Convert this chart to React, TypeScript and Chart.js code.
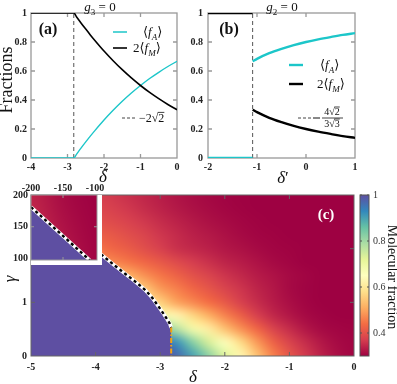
import React, { useEffect, useRef } from "react";
import { Chart, registerables } from "chart.js";

Chart.register(...registerables);

const SERIF = '"Liberation Serif", "DejaVu Serif", serif';
const CYAN = "#1cc6c9";

// ---------------- Panel (a): g3 = 0 ----------------
const deltaA = [-4, -3.5, -3, -2.828, -2.75, -2.625, -2.5, -2.375, -2.25, -2, -1.75, -1.5, -1.25, -1, -0.75, -0.5, -0.25, 0];
const molA = [1, 1, 1, 1, 0.973, 0.93, 0.889, 0.849, 0.811, 0.738, 0.671, 0.609, 0.552, 0.5, 0.452, 0.409, 0.369, 0.333];
const atomA = [0, 0, 0, 0, 0.027, 0.07, 0.111, 0.151, 0.189, 0.262, 0.329, 0.391, 0.448, 0.5, 0.548, 0.591, 0.631, 0.667];
const critA = -2.828;
const ticksAX = [-4, -3, -2, -1, 0];
const labelsAX = ["-4", "-3", "-2", "-1", "0"];
const ticksFrac = [0, 0.2, 0.4, 0.6, 0.8, 1];
const labelsFrac = ["0", "0.2", "0.4", "0.6", "0.8", "1"];

// ---------------- Panel (b): g2 = 0 ----------------
const deltaBLow = [-2, -1.089];
const molBLow = [1, 1];
const atomBLow = [0, 0];
const deltaBHigh = [-1.089, -1, -0.75, -0.5, -0.25, 0, 0.25, 0.5, 0.75, 1];
const molBHigh = [0.333, 0.316, 0.277, 0.247, 0.221, 0.2, 0.182, 0.166, 0.151, 0.139];
const atomBHigh = [0.667, 0.684, 0.723, 0.753, 0.779, 0.8, 0.818, 0.834, 0.849, 0.861];
const critB = -1.089;
const ticksBX = [-2, -1, 0, 1];
const labelsBX = ["-2", "-1", "0", "1"];

// ---------------- Panel (c): molecular fraction map ----------------
const heatDelta = [-5, -4.75, -4.5, -4.25, -4, -3.75, -3.5, -3.25, -3, -2.75, -2.5, -2.25, -2, -1.75, -1.5, -1.25, -1, -0.75, -0.5, -0.25, 0];
const heatGamma = [0, 0.25, 0.5, 0.75, 1, 1.25, 1.5, 1.75, 2, 2.25, 2.5, 2.75, 3];
const heatG000 = [1, 1, 1, 1, 1, 1, 1, 1, 1, 0.97, 0.9, 0.82, 0.73, 0.63, 0.54, 0.46, 0.405, 0.365, 0.335, 0.315, 0.305];
const heatG025 = [0.97, 0.97, 0.97, 0.97, 0.97, 0.97, 0.97, 0.97, 0.97, 0.92, 0.83, 0.74, 0.66, 0.575, 0.49, 0.425, 0.38, 0.35, 0.325, 0.31, 0.305];
const heatG050 = [0.84, 0.84, 0.84, 0.84, 0.84, 0.84, 0.84, 0.84, 0.84, 0.78, 0.69, 0.61, 0.54, 0.48, 0.43, 0.38, 0.35, 0.325, 0.31, 0.305, 0.302];
const heatG075 = [0.69, 0.69, 0.69, 0.69, 0.69, 0.69, 0.69, 0.69, 0.69, 0.63, 0.57, 0.515, 0.465, 0.42, 0.375, 0.345, 0.325, 0.31, 0.303, 0.3, 0.3];
const heatG100 = [0.6, 0.6, 0.6, 0.6, 0.6, 0.6, 0.6, 0.6, 0.56, 0.5, 0.47, 0.44, 0.41, 0.375, 0.35, 0.33, 0.315, 0.305, 0.3, 0.3, 0.3];
const heatG125 = [0.58, 0.58, 0.58, 0.58, 0.58, 0.58, 0.58, 0.55, 0.49, 0.46, 0.43, 0.405, 0.38, 0.36, 0.34, 0.325, 0.31, 0.303, 0.3, 0.3, 0.3];
const heatG150 = [0.54, 0.54, 0.54, 0.54, 0.54, 0.54, 0.52, 0.48, 0.45, 0.425, 0.4, 0.38, 0.36, 0.345, 0.33, 0.32, 0.31, 0.305, 0.3, 0.3, 0.3];
const heatG175 = [0.49, 0.49, 0.49, 0.49, 0.49, 0.47, 0.45, 0.43, 0.41, 0.39, 0.37, 0.355, 0.34, 0.33, 0.32, 0.31, 0.305, 0.3, 0.3, 0.3, 0.3];
const heatG200 = [0.46, 0.46, 0.46, 0.46, 0.45, 0.43, 0.415, 0.395, 0.375, 0.355, 0.345, 0.335, 0.325, 0.318, 0.31, 0.305, 0.302, 0.3, 0.3, 0.3, 0.3];
const heatG225 = [0.43, 0.43, 0.43, 0.43, 0.42, 0.41, 0.395, 0.38, 0.362, 0.348, 0.336, 0.327, 0.318, 0.31, 0.305, 0.302, 0.3, 0.3, 0.3, 0.3, 0.3];
const heatG250 = [0.41, 0.41, 0.41, 0.41, 0.4, 0.39, 0.378, 0.364, 0.35, 0.338, 0.327, 0.318, 0.312, 0.306, 0.302, 0.3, 0.3, 0.3, 0.3, 0.3, 0.3];
const heatG275 = [0.39, 0.39, 0.39, 0.39, 0.385, 0.375, 0.363, 0.35, 0.338, 0.327, 0.318, 0.311, 0.306, 0.302, 0.3, 0.3, 0.3, 0.3, 0.3, 0.3, 0.3];
const heatG300 = [0.38, 0.38, 0.38, 0.38, 0.375, 0.365, 0.354, 0.343, 0.332, 0.322, 0.314, 0.308, 0.304, 0.301, 0.3, 0.3, 0.3, 0.3, 0.3, 0.3, 0.3];
const heatRows = [heatG000, heatG025, heatG050, heatG075, heatG100, heatG125, heatG150, heatG175, heatG200, heatG225, heatG250, heatG275, heatG300];

const boundaryDelta = [-5, -4.5, -3.91, -3.74, -3.57, -3.4, -3.235, -3.12, -3.03, -2.95, -2.89, -2.85, -2.83];
const boundaryGamma = [2.95, 2.45, 1.89, 1.72, 1.557, 1.4, 1.234, 1.08, 0.93, 0.79, 0.68, 0.6, 0.53];
const secondOrderDelta = [-2.83, -2.83];
const secondOrderGamma = [0.53, 0];
const ticksCX = [-5, -4, -3, -2, -1, 0];
const labelsCX = ["-5", "-4", "-3", "-2", "-1", "0"];
const ticksCY = [0, 1];
const labelsCY = ["0", "1"];

// inset (large detunings)
const insetDelta = [-200, -150, -100];
const insetGamma = [100, 150, 200];
const insetG100 = [0.36, 0.33, 0.305];
const insetG150 = [0.35, 0.32, 0.302];
const insetG200 = [0.34, 0.312, 0.3];
const insetRows = [insetG100, insetG150, insetG200];
const insetBoundaryDelta = [-200, -108.4];
const insetBoundaryGamma = [181, 97.6];
const ticksIX = [-200, -150, -100];
const labelsIX = ["-200", "-150", "-100"];
const ticksIY = [100, 150, 200];
const labelsIY = ["100", "150", "200"];

// colour bar
const cbMin = 0.3;
const cbMax = 1;
const cbTicks = [0.4, 0.6, 0.8, 1];
const cbLabels = ["0.4", "0.6", "0.8", "1"];
const SPECTRAL = ["#9e0142", "#d53e4f", "#f46d43", "#fdae61", "#fee08b", "#ffffbf", "#e6f598", "#abdda4", "#66c2a5", "#3288bd", "#5e4fa2"];

const hexRgb = (h: string) => [parseInt(h.slice(1, 3), 16), parseInt(h.slice(3, 5), 16), parseInt(h.slice(5, 7), 16)];
const SPEC_RGB = SPECTRAL.map(hexRgb);
function colorOf(v: number) {
  let t = (v - cbMin) / (cbMax - cbMin);
  t = Math.max(0, Math.min(1, t));
  const p = t * (SPEC_RGB.length - 1);
  const i = Math.min(Math.floor(p), SPEC_RGB.length - 2);
  const f = p - i;
  const a = SPEC_RGB[i];
  const b = SPEC_RGB[i + 1];
  return [0, 1, 2].map((k) => Math.round(a[k] + (b[k] - a[k]) * f));
}

const pts = (xs: number[], ys: number[]) => xs.map((x, i) => ({ x, y: ys[i] }));

const fontTick = { family: SERIF, size: 10, weight: "bold" as const };

function linScale(min: number, max: number, ticks: number[], labels: string[], pos: string, size: number, pad: number, font: any = fontTick, color = "#222") {
  return {
    type: "linear",
    min,
    max,
    position: pos,
    grid: { display: false, drawTicks: false },
    border: { display: false },
    ticks: {
      padding: pad,
      autoSkip: false,
      maxRotation: 0,
      minRotation: 0,
      color,
      font,
      callback: (_v: any, i: number) => labels[i],
    },
    afterBuildTicks: (s: any) => {
      s.ticks = ticks.map((v) => ({ value: v }));
    },
    afterFit: (s: any) => {
      if (pos === "left" || pos === "right") s.width = size;
      else s.height = size;
    },
  };
}

function baseOpts(padding: any, scales: any) {
  return {
    animation: false,
    responsive: false,
    maintainAspectRatio: false,
    devicePixelRatio: 1,
    events: [],
    layout: { padding },
    plugins: { legend: { display: false }, tooltip: { enabled: false }, title: { display: false } },
    scales,
  };
}

type Part = { t: string; it?: boolean; sub?: boolean; bold?: boolean; bar?: boolean };
function drawParts(ctx: CanvasRenderingContext2D, x: number, y: number, parts: Part[], size: number, color: string, align: "left" | "center" = "left") {
  const font = (p: Part) => `${p.it ? "italic " : ""}${p.bold ? "bold " : ""}${p.sub ? Math.round(size * 0.7) : size}px ${SERIF}`;
  ctx.save();
  ctx.textAlign = "left";
  ctx.textBaseline = "alphabetic";
  ctx.fillStyle = color;
  ctx.strokeStyle = color;
  const widths = parts.map((p) => {
    ctx.font = font(p);
    return ctx.measureText(p.t).width;
  });
  const total = widths.reduce((a, b) => a + b, 0);
  let cx = align === "center" ? x - total / 2 : x;
  parts.forEach((p, i) => {
    ctx.font = font(p);
    ctx.fillText(p.t, cx, p.sub ? y + size * 0.28 : y);
    if (p.bar) {
      ctx.lineWidth = 0.8;
      ctx.beginPath();
      ctx.moveTo(cx - 0.5, y - size * 0.8);
      ctx.lineTo(cx + widths[i], y - size * 0.8);
      ctx.stroke();
    }
    cx += widths[i];
  });
  ctx.restore();
  return total;
}

function drawRotated(ctx: CanvasRenderingContext2D, text: string, x: number, y: number, angle: number, font: string, color: string) {
  ctx.save();
  ctx.translate(x, y);
  ctx.rotate(angle);
  ctx.font = font;
  ctx.fillStyle = color;
  ctx.textAlign = "center";
  ctx.textBaseline = "alphabetic";
  ctx.fillText(text, 0, 0);
  ctx.restore();
}

function hline(ctx: CanvasRenderingContext2D, x0: number, x1: number, y: number, color: string, w: number, dash: number[] = []) {
  ctx.save();
  ctx.strokeStyle = color;
  ctx.lineWidth = w;
  ctx.setLineDash(dash);
  ctx.beginPath();
  ctx.moveTo(x0, y);
  ctx.lineTo(x1, y);
  ctx.stroke();
  ctx.restore();
}

function makeFrame(o: { color: string; width: number; xTicks: number[]; yTicks: number[]; len: number; before?: boolean }) {
  const draw = (chart: any) => {
    const { ctx, chartArea: a, scales } = chart;
    ctx.save();
    ctx.strokeStyle = o.color;
    ctx.lineWidth = o.width;
    ctx.strokeRect(a.left, a.top, a.right - a.left, a.bottom - a.top);
    ctx.beginPath();
    for (const v of o.xTicks) {
      const px = scales.x.getPixelForValue(v);
      ctx.moveTo(px, a.bottom);
      ctx.lineTo(px, a.bottom - o.len);
      ctx.moveTo(px, a.top);
      ctx.lineTo(px, a.top + o.len);
    }
    for (const v of o.yTicks) {
      const py = scales.y.getPixelForValue(v);
      ctx.moveTo(a.left, py);
      ctx.lineTo(a.left + o.len, py);
      ctx.moveTo(a.right, py);
      ctx.lineTo(a.right - o.len, py);
    }
    ctx.stroke();
    ctx.restore();
  };
  return {
    id: "frame",
    beforeDatasetsDraw: (c: any) => {
      if (o.before) draw(c);
    },
    afterDatasetsDraw: (c: any) => {
      if (!o.before) draw(c);
    },
  };
}

function makeHeat(xs: number[], ys: number[], rows: number[][]) {
  return {
    id: "heat",
    beforeDatasetsDraw: (chart: any) => {
      const { ctx, chartArea: a, scales } = chart;
      const nx = xs.length;
      const ny = ys.length;
      const off = document.createElement("canvas");
      off.width = nx;
      off.height = ny;
      const o = off.getContext("2d")!;
      const img = o.createImageData(nx, ny);
      for (let j = 0; j < ny; j++) {
        for (let i = 0; i < nx; i++) {
          const c = colorOf(rows[j][i]);
          const k = ((ny - 1 - j) * nx + i) * 4;
          img.data[k] = c[0];
          img.data[k + 1] = c[1];
          img.data[k + 2] = c[2];
          img.data[k + 3] = 255;
        }
      }
      o.putImageData(img, 0, 0);
      const hx = (xs[1] - xs[0]) / 2;
      const hy = (ys[1] - ys[0]) / 2;
      const x0 = scales.x.getPixelForValue(xs[0] - hx);
      const x1 = scales.x.getPixelForValue(xs[nx - 1] + hx);
      const y0 = scales.y.getPixelForValue(ys[ny - 1] + hy);
      const y1 = scales.y.getPixelForValue(ys[0] - hy);
      ctx.save();
      ctx.beginPath();
      ctx.rect(a.left, a.top, a.right - a.left, a.bottom - a.top);
      ctx.clip();
      ctx.imageSmoothingEnabled = true;
      (ctx as any).imageSmoothingQuality = "high";
      ctx.drawImage(off, x0, y0, x1 - x0, y1 - y0);
      ctx.restore();
    },
  };
}

const lineDs = (data: any[], color: string, width: number, extra: any = {}) => ({
  data,
  borderColor: color,
  borderWidth: width,
  pointRadius: 0,
  fill: false,
  tension: 0,
  ...extra,
});

export default function App() {
  const refA = useRef<HTMLCanvasElement>(null);
  const refB = useRef<HTMLCanvasElement>(null);
  const refC = useRef<HTMLCanvasElement>(null);
  const refI = useRef<HTMLCanvasElement>(null);
  const refCB = useRef<HTMLCanvasElement>(null);

  useEffect(() => {
    const charts: Chart[] = [];

    // ---------- (a) ----------
    const notesA = {
      id: "notes",
      afterDraw: (chart: any) => {
        const ctx = chart.ctx as CanvasRenderingContext2D;
        drawParts(ctx, 100, 11, [{ t: "g", it: true }, { t: "3", sub: true }, { t: " = 0" }], 13, "#111", "center");
        drawParts(ctx, 48, 34, [{ t: "(a)", bold: true }], 16, "#111", "center");
        hline(ctx, 113, 127, 32, CYAN, 1.5);
        drawParts(ctx, 143, 36, [{ t: "⟨" }, { t: "f", it: true }, { t: "A", it: true, sub: true }, { t: "⟩" }], 13, "#111");
        hline(ctx, 113, 127, 48, "#000", 1.6);
        drawParts(ctx, 133, 52, [{ t: "2⟨" }, { t: "f", it: true }, { t: "M", it: true, sub: true }, { t: "⟩" }], 13, "#111");
        hline(ctx, 122, 135, 118, "#444", 1, [3, 2]);
        drawParts(ctx, 139, 122, [{ t: "−2√" }, { t: "2", bar: true }], 12, "#111");
        drawRotated(ctx, "Fractions", 12, 80, -Math.PI / 2, `18px ${SERIF}`, "#111");
        drawParts(ctx, 103, 182, [{ t: "δ", it: true }], 17, "#111", "center");
      },
    };
    charts.push(
      new Chart(refA.current!, {
        type: "line",
        data: {
          datasets: [
            lineDs(pts(deltaA, molA), "#000", 1.6, { cubicInterpolationMode: "monotone", order: 1 }),
            lineDs(pts(deltaA, atomA), CYAN, 1.4, { cubicInterpolationMode: "monotone", order: 2 }),
            lineDs(pts([critA, critA], [0, 1]), "#555", 1, { borderDash: [4, 3], order: 3 }),
          ],
        },
        options: baseOpts({ left: 0, top: 13, right: 220, bottom: 199 }, {
          x: linScale(-4, 0, ticksAX, labelsAX, "bottom", 27, 3),
          y: linScale(0, 1, ticksFrac, labelsFrac, "left", 31, 4),
        }) as any,
        plugins: [makeFrame({ color: "#999", width: 1.3, xTicks: [-3, -2, -1], yTicks: [0.2, 0.4, 0.6, 0.8], len: 4, before: true }), notesA],
      } as any)
    );

    // ---------- (b) ----------
    const notesB = {
      id: "notes",
      afterDraw: (chart: any) => {
        const ctx = chart.ctx as CanvasRenderingContext2D;
        drawParts(ctx, 282, 11, [{ t: "g", it: true }, { t: "2", sub: true }, { t: " = 0" }], 13, "#111", "center");
        drawParts(ctx, 229, 34, [{ t: "(b)", bold: true }], 16, "#111", "center");
        hline(ctx, 289, 303, 65, CYAN, 2.4);
        drawParts(ctx, 320, 69, [{ t: "⟨" }, { t: "f", it: true }, { t: "A", it: true, sub: true }, { t: "⟩" }], 13, "#111");
        hline(ctx, 289, 303, 84, "#000", 2.4);
        drawParts(ctx, 317, 88, [{ t: "2⟨" }, { t: "f", it: true }, { t: "M", it: true, sub: true }, { t: "⟩" }], 13, "#111");
        hline(ctx, 298, 312, 118, "#444", 1, [3, 2]);
        hline(ctx, 313, 320, 118, "#111", 1);
        drawParts(ctx, 332, 115, [{ t: "4√" }, { t: "2", bar: true }], 10, "#111", "center");
        hline(ctx, 322, 343, 118, "#111", 0.8);
        drawParts(ctx, 332, 127, [{ t: "3√" }, { t: "3", bar: true }], 10, "#111", "center");
        drawParts(ctx, 283, 183, [{ t: "δ", it: true }, { t: "′" }], 17, "#111", "center");
      },
    };
    charts.push(
      new Chart(refB.current!, {
        type: "line",
        data: {
          datasets: [
            lineDs(pts(deltaBLow, molBLow), "#000", 2.4, { order: 1 }),
            lineDs(pts(deltaBHigh, molBHigh), "#000", 2.4, { cubicInterpolationMode: "monotone", order: 1 }),
            lineDs(pts(deltaBLow, atomBLow), CYAN, 2.4, { order: 2 }),
            lineDs(pts(deltaBHigh, atomBHigh), CYAN, 2.4, { cubicInterpolationMode: "monotone", order: 2 }),
            lineDs(pts([critB, critB], [0, 1]), "#555", 1, { borderDash: [4, 3], order: 3 }),
          ],
        },
        options: baseOpts({ left: 180, top: 13, right: 42, bottom: 199 }, {
          x: linScale(-2, 1, ticksBX, labelsBX, "bottom", 27, 3),
          y: linScale(0, 1, ticksFrac, labelsFrac, "left", 28, 5),
        }) as any,
        plugins: [makeFrame({ color: "#999", width: 1.3, xTicks: [-1, 0], yTicks: [0.2, 0.4, 0.6, 0.8], len: 4, before: true }), notesB],
      } as any)
    );

    // ---------- (c) main map ----------
    const purplePts = pts(boundaryDelta.concat([secondOrderDelta[1]]), boundaryGamma.concat([secondOrderGamma[1]]));
    const notesC = {
      id: "notes",
      afterDraw: (chart: any) => {
        const ctx = chart.ctx as CanvasRenderingContext2D;
        drawParts(ctx, 326, 219, [{ t: "(c)", bold: true }], 15, "#fff", "center");
        drawParts(ctx, 193, 382, [{ t: "δ", it: true }], 17, "#111", "center");
        drawRotated(ctx, "γ", 15, 279, -Math.PI / 2, `italic 17px ${SERIF}`, "#111");
      },
    };
    charts.push(
      new Chart(refC.current!, {
        type: "line",
        data: {
          datasets: [
            lineDs(pts(secondOrderDelta, secondOrderGamma), "#f5a30f", 2, { borderDash: [5, 2, 1.5, 2], order: 1 }),
            lineDs(pts(boundaryDelta, boundaryGamma), "#000", 2.4, { borderDash: [3, 3], order: 2 }),
            lineDs(pts(boundaryDelta, boundaryGamma), "#fff", 3.6, { order: 3 }),
            lineDs(purplePts, "rgba(0,0,0,0)", 0, { fill: "origin", backgroundColor: "#5e4fa2", order: 4 }),
          ],
        },
        options: baseOpts({ left: 0, top: 195, right: 43, bottom: 0 }, {
          x: linScale(-5, 0, ticksCX, labelsCX, "bottom", 28, 5),
          y: linScale(0, 3, ticksCY, labelsCY, "left", 31, 4),
        }) as any,
        plugins: [makeHeat(heatDelta, heatGamma, heatRows), makeFrame({ color: "#666", width: 1, xTicks: [-4, -3, -2, -1], yTicks: [1, 2], len: 4 }), notesC],
      } as any)
    );

    // ---------- (c) inset ----------
    const insetBg = {
      id: "insetBg",
      beforeDatasetsDraw: (chart: any) => {
        const { ctx, chartArea: a } = chart;
        ctx.save();
        ctx.fillStyle = "#fff";
        ctx.fillRect(a.left, a.top, a.right - a.left + 5, a.bottom - a.top + 5);
        ctx.restore();
      },
    };
    const insetPurple = pts(insetBoundaryDelta, insetBoundaryGamma);
    charts.push(
      new Chart(refI.current!, {
        type: "line",
        data: {
          datasets: [
            lineDs(insetPurple, "#000", 2.4, { borderDash: [3, 3], order: 1 }),
            lineDs(insetPurple, "#fff", 3.6, { order: 2 }),
            lineDs(insetPurple, "rgba(0,0,0,0)", 0, { fill: "start", backgroundColor: "#5e4fa2", order: 3 }),
          ],
        },
        options: baseOpts({ left: 0, top: 175, right: 300, bottom: 124 }, {
          x: linScale(-200, -96.9, ticksIX, labelsIX, "top", 20, 1),
          y: linScale(97.6, 200, ticksIY, labelsIY, "left", 31, 3),
        }) as any,
        plugins: [insetBg, makeHeat(insetDelta, insetGamma, insetRows), makeFrame({ color: "#999", width: 1, xTicks: [-150], yTicks: [150], len: 3 })],
      } as any)
    );

    // ---------- colour bar ----------
    const cbDraw = {
      id: "cb",
      afterDraw: (chart: any) => {
        const { ctx, chartArea: a, scales } = chart;
        const y0 = scales.y.getPixelForValue(cbMin);
        const y1 = scales.y.getPixelForValue(cbMax);
        const g = ctx.createLinearGradient(0, y0, 0, y1);
        SPECTRAL.forEach((c, i) => g.addColorStop(i / (SPECTRAL.length - 1), c));
        ctx.save();
        ctx.fillStyle = g;
        ctx.fillRect(a.left, y1, a.right - a.left, y0 - y1);
        ctx.strokeStyle = "#555";
        ctx.lineWidth = 1;
        ctx.strokeRect(a.left, y1, a.right - a.left, y0 - y1);
        ctx.beginPath();
        for (const v of cbTicks) {
          const py = scales.y.getPixelForValue(v);
          ctx.moveTo(a.right, py);
          ctx.lineTo(a.right - 2, py);
          ctx.moveTo(a.left, py);
          ctx.lineTo(a.left + 2, py);
        }
        ctx.stroke();
        ctx.restore();
        drawRotated(ctx, "Molecular fraction", 388, 277, Math.PI / 2, `14px ${SERIF}`, "#111");
      },
    };
    charts.push(
      new Chart(refCB.current!, {
        type: "line",
        data: { datasets: [] },
        options: baseOpts({ left: 360, top: 195, right: 0, bottom: 28 }, {
          x: { type: "linear", display: false, min: 0, max: 1 },
          y: linScale(cbMin, cbMax, cbTicks, cbLabels, "right", 28, 4, { family: SERIF, size: 10 }, "#333"),
        }) as any,
        plugins: [cbDraw],
      } as any)
    );

    return () => charts.forEach((c) => c.destroy());
  }, []);

  const cs: React.CSSProperties = { position: "absolute", left: 0, top: 0 };
  return (
    <div style={{ position: "fixed", left: 0, top: 0, width: 397, height: 384, background: "#fff", overflow: "hidden" }}>
      <canvas ref={refC} width={397} height={384} style={cs} />
      <canvas ref={refI} width={397} height={384} style={cs} />
      <canvas ref={refCB} width={397} height={384} style={cs} />
      <canvas ref={refA} width={397} height={384} style={cs} />
      <canvas ref={refB} width={397} height={384} style={cs} />
    </div>
  );
}
